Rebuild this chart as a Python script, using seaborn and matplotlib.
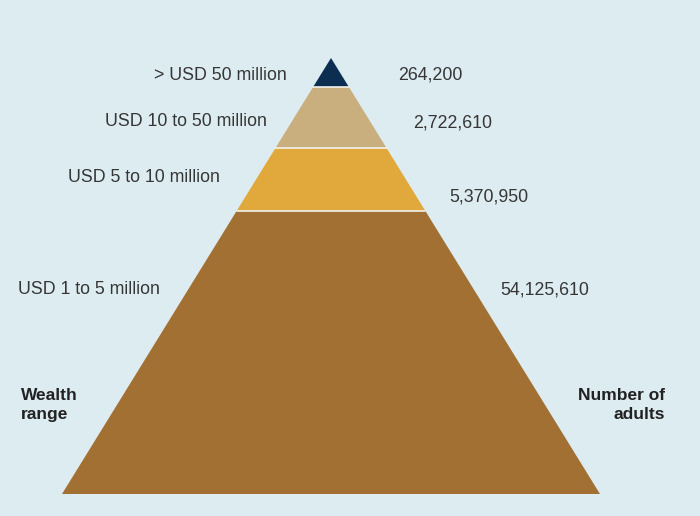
import numpy as np
import pandas as pd
import matplotlib.pyplot as plt
import seaborn as sns

# wealth pyramid data
ranges = ["> USD 50 million", "USD 10 to 50 million", "USD 5 to 10 million", "USD 1 to 5 million"]
adults = [264200, 2722610, 5370950, 54125610]
colors = ["#0c2f51", "#c9ae7e", "#e1a93c", "#a37033"]

# layout (pixel coords of the drawing)
apex_x, apex_y = 331, 58
base_y, half_base = 494, 269
band_edges = [58, 87, 148, 211, 494]
left_pos = [(287, 76), (267, 121), (220, 177), (160, 289)]
right_pos = [(398, 75), (413, 123), (449, 197), (500, 290)]

bg = "#ddecf1"
sns.set_theme(style="white", rc={"figure.facecolor": bg, "axes.facecolor": bg})
plt.rcParams["font.family"] = ["Liberation Sans", "DejaVu Sans"]

fig = plt.figure(figsize=(7, 5.16), dpi=100)
ax = fig.add_axes([0, 0, 1, 1])
ax.set_xlim(0, 700)
ax.set_ylim(516, 0)
ax.axis("off")

def hw(y):
    return half_base * (y - apex_y) / (base_y - apex_y)

for i in range(len(ranges)):
    y0, y1 = band_edges[i], band_edges[i + 1]
    xs = [apex_x - hw(y0), apex_x + hw(y0), apex_x + hw(y1), apex_x - hw(y1)]
    ys = [y0, y0, y1, y1]
    ax.fill(xs, ys, color=colors[i], lw=0)
    if i > 0:
        ax.plot([apex_x - hw(y0), apex_x + hw(y0)], [y0, y0], color="#f2f2ee", lw=1.2)
    lx, ly = left_pos[i]
    ax.text(lx, ly, ranges[i], ha="right", va="center", fontsize=12.8, color="#363636")
    rx, ry = right_pos[i]
    ax.text(rx, ry, f"{adults[i]:,}", ha="left", va="center", fontsize=12.8, color="#363636")

ax.text(21, 405, "Wealth\nrange", ha="left", va="center", fontsize=12.5,
        fontweight="bold", color="#222222", linespacing=1.3)
ax.text(665, 405, "Number of\nadults", ha="right", va="center", fontsize=12.5,
        fontweight="bold", color="#222222", linespacing=1.3, multialignment="right")

plt.savefig("out.png", dpi=100, facecolor=bg)
